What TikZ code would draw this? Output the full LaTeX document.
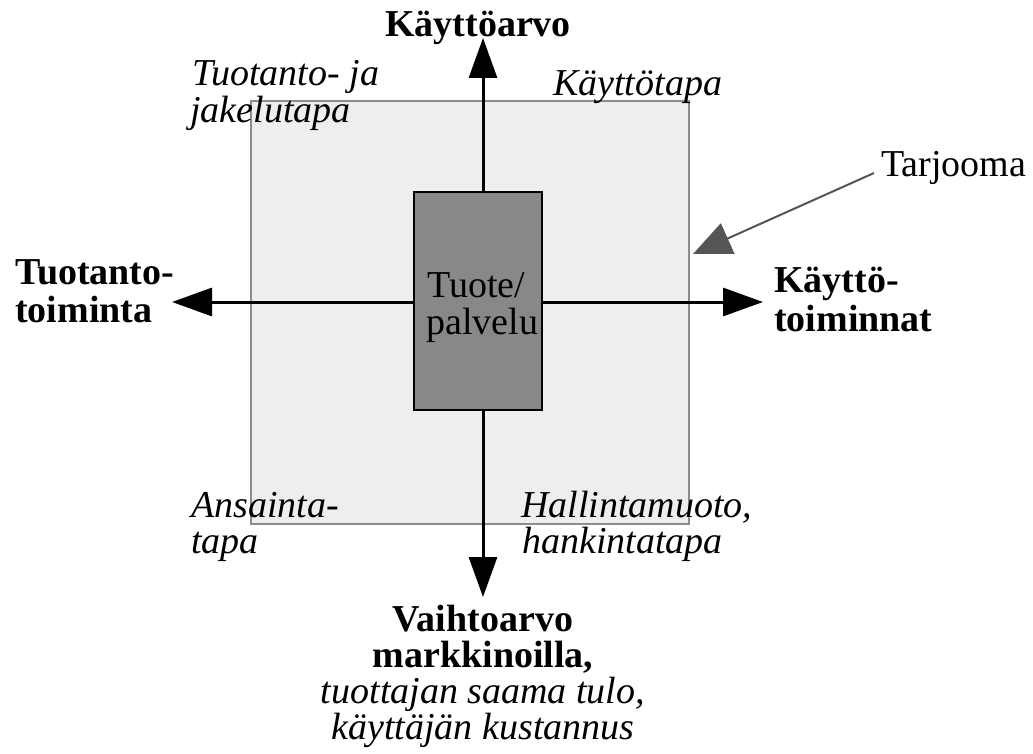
\documentclass[tikz,border=0pt]{standalone}
\usepackage{fontspec}
\setmainfont{Liberation Serif}
\usetikzlibrary{arrows.meta}
\definecolor{offerfill}{HTML}{EEEEEE}
\definecolor{offeredge}{HTML}{8C8C8C}
\definecolor{corefill}{HTML}{888888}
\definecolor{pointer}{HTML}{555555}
\begin{document}
\begin{tikzpicture}[x=1pt,y=-1pt,
  txt/.style={inner sep=0pt, font=\fontsize{38}{38}\selectfont},
  bold/.style={inner sep=0pt, font=\fontsize{38}{38}\selectfont\bfseries},
  slanted/.style={inner sep=0pt, font=\fontsize{38}{38}\selectfont\itshape},
  axis/.style={line width=3pt, -{Triangle[length=40pt,width=28pt]}},
  pointerline/.style={line width=2pt, draw=pointer, -{Triangle[length=38pt,width=33pt,fill=pointer]}},
]
\useasboundingbox (0,0) rectangle (1033,754);
\fill[white] (0,0) rectangle (1033,754);

% offering area
\draw[fill=offerfill, draw=offeredge, line width=1.5pt] (251,101) rectangle (689,524);

% core product box
\node[draw=black, fill=corefill, line width=2pt, minimum width=128pt,
      minimum height=218pt, inner sep=0pt] (core) at (478,301) {};

% axis ends
\coordinate (c) at (483,302);
\coordinate (top) at (483,38);
\coordinate (bottom) at (483,597);
\coordinate (left) at (172,302);
\coordinate (right) at (763,302);

\draw[axis] (c |- core.north) -- (top);
\draw[axis] (c |- core.south) -- (bottom);
\draw[axis] (c -| core.west) -- (left);
\draw[axis] (c -| core.east) -- (right);

% redraw the box over the axis stubs
\node[draw=black, fill=corefill, line width=2pt, minimum width=128pt,
      minimum height=218pt, inner sep=0pt] (corefront) at (core) {};
\node[txt, anchor=base west] (tuote) at (427,297) {Tuote/};
\node[txt, anchor=base west] (palvelu) at (426,334) {palvelu};

% axis labels
\node[bold, anchor=base] (kayttoarvo) at (478,37) {Käyttöarvo};
\node[bold, anchor=base west] (tuotanto1) at (15,284) {Tuotanto-};
\node[bold, anchor=base west] (tuotanto2) at (15,322) {toiminta};
\node[bold, anchor=base west] (kaytto1) at (774,292) {Käyttö-};
\node[bold, anchor=base west] (kaytto2) at (774,331) {toiminnat};
% four-line label; its base anchor sits on the last line
\node[txt, anchor=base, align=center, font=\fontsize{38}{36}\selectfont] (vaihto) at (483,739)
  {{\bfseries Vaihtoarvo}\\{\bfseries markkinoilla,}\\
   {\itshape tuottajan saama tulo,}\\{\itshape käyttäjän kustannus}};

% corner labels
\node[slanted, anchor=base west] (tj1) at (192,86) {Tuotanto- ja};
\node[slanted, anchor=base west] (tj2) at (190,123) {jakelutapa};
\node[slanted, anchor=base west] (kt) at (553,96) {Käyttötapa};
\node[slanted, anchor=base west] (an1) at (191,517) {Ansainta-};
\node[slanted, anchor=base west] (an2) at (191,553) {tapa};
\node[slanted, anchor=base west] (ha1) at (521,517) {Hallintamuoto,};
\node[slanted, anchor=base west] (ha2) at (522,553) {hankintatapa};

% offering pointer
\node[txt, anchor=base west] (tarjooma) at (881,177) {Tarjooma};
\coordinate (tarjtip) at (693,254);
\draw[pointerline] ([xshift=-7pt,yshift=4pt]tarjooma.base west) -- (tarjtip);
\end{tikzpicture}
\end{document}
